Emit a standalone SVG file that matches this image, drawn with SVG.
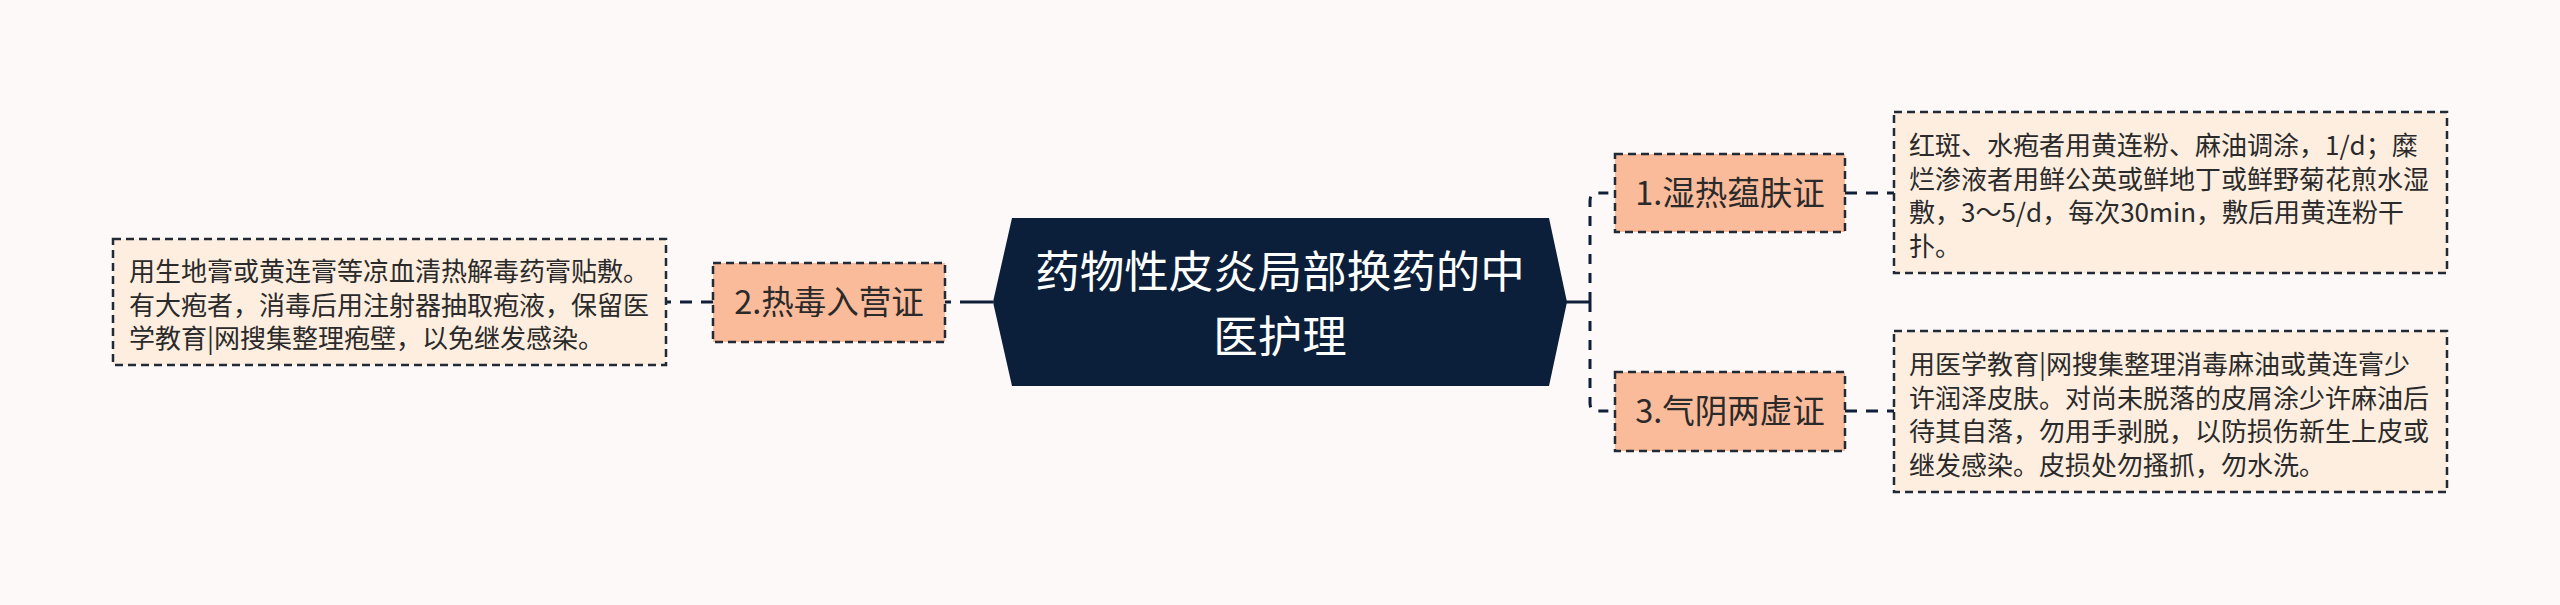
<svg xmlns="http://www.w3.org/2000/svg" width="2560" height="605" viewBox="0 0 2560 605">
<style>
text{font-family:"Noto Sans CJK SC","Liberation Sans",sans-serif;}
.conn{fill:none;stroke:#0f1f38;stroke-width:3;}
.dash{stroke-dasharray:12 9;}
.sub rect{fill:#fabb9b;stroke:#222a35;stroke-width:2.5;stroke-dasharray:8 5;}
.sub text{font-size:32.5px;fill:#2a2a2a;text-anchor:middle;}
.note rect{fill:#fdeee0;stroke:#222a35;stroke-width:2.5;stroke-dasharray:8 5;}
.note text{font-size:26px;fill:#2a2a2a;}
</style>
<rect width="2560" height="605" fill="#fdf9f8"/>
<g id="connectors">
  <path class="conn" d="M993,302 H945" stroke-dasharray="33 9 6 100"/>
  <path class="conn dash" d="M713,302 H666"/>
  <path class="conn" d="M1566,302 H1590"/>
  <path class="conn" d="M1590,302 V201 Q1590,193 1598,193 H1614" stroke-dasharray="10 9"/>
  <path class="conn" d="M1590,302 V403 Q1590,411 1598,411 H1614" stroke-dasharray="10 9"/>
  <path class="conn dash" d="M1845,193 H1894"/>
  <path class="conn dash" d="M1845,411 H1894"/>
</g>
<g id="center">
  <polygon points="1012,218 1549,218 1567,302 1549,386 1012,386 993,302" fill="#0c1f3a"/>
  <text x="1280" y="288" font-size="44.5" fill="#ffffff" text-anchor="middle">药物性皮炎局部换药的中</text>
  <text x="1280" y="353" font-size="44.5" fill="#ffffff" text-anchor="middle">医护理</text>
</g>
<g id="node2" class="sub">
  <rect x="713" y="263" width="232" height="79"/>
  <text x="829" y="314">2.热毒入营证</text>
</g>
<g id="note2" class="note">
  <rect x="113" y="239" width="553" height="126"/>
  <text x="129" y="281">用生地膏或黄连膏等凉血清热解毒药膏贴敷。</text>
  <text x="129" y="314.5">有大疱者，消毒后用注射器抽取疱液，保留医</text>
  <text x="129" y="348">学教育|网搜集整理疱壁，以免继发感染。</text>
</g>
<g id="node1" class="sub">
  <rect x="1615" y="154" width="230" height="78"/>
  <text x="1730" y="205">1.湿热蕴肤证</text>
</g>
<g id="note1" class="note">
  <rect x="1894" y="112" width="553" height="161"/>
  <text x="1909" y="155">红斑、水疱者用黄连粉、麻油调涂，1/d；糜</text>
  <text x="1909" y="189">烂渗液者用鲜公英或鲜地丁或鲜野菊花煎水湿</text>
  <text x="1909" y="222">敷，3～5/d，每次30min，敷后用黄连粉干</text>
  <text x="1909" y="256">扑。</text>
</g>
<g id="node3" class="sub">
  <rect x="1615" y="372" width="230" height="79"/>
  <text x="1730" y="423">3.气阴两虚证</text>
</g>
<g id="note3" class="note">
  <rect x="1894" y="331" width="553" height="161"/>
  <text x="1909" y="374">用医学教育|网搜集整理消毒麻油或黄连膏少</text>
  <text x="1909" y="408">许润泽皮肤。对尚未脱落的皮屑涂少许麻油后</text>
  <text x="1909" y="441">待其自落，勿用手剥脱，以防损伤新生上皮或</text>
  <text x="1909" y="475">继发感染。皮损处勿搔抓，勿水洗。</text>
</g>
</svg>
